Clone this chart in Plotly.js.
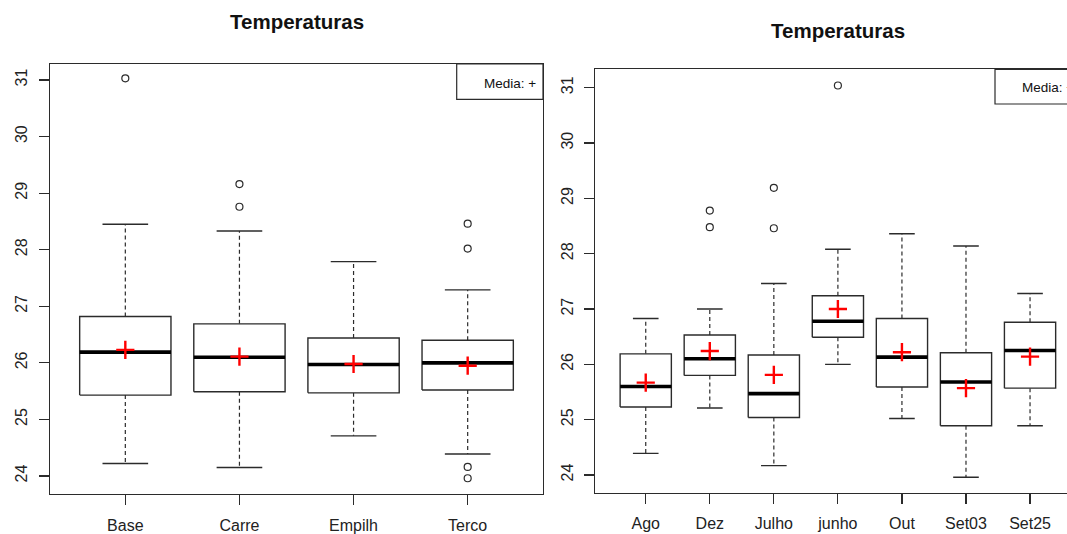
<!DOCTYPE html>
<html>
<head>
<meta charset="utf-8">
<script src="https://cdn.plot.ly/plotly-3.0.1.min.js"></script>
<style>html,body{margin:0;padding:0;background:#fff}#chart{width:1067px;height:534px}</style>
</head>
<body>
<div id="chart"></div>
<script>
// Panel A: storage location
const catsA = ["Base", "Carre", "Empilh", "Terco"];
const lowA  = [24.22, 24.15, 24.71, 24.39];
const q1A   = [25.43, 25.49, 25.47, 25.52];
const medA  = [26.19, 26.10, 25.97, 26.00];
const q3A   = [26.82, 26.69, 26.44, 26.40];
const highA = [28.45, 28.33, 27.79, 27.29];
const meanA = [26.23, 26.11, 25.98, 25.95];
const outA  = [[31.03], [29.16, 28.76], [], [28.46, 28.02, 24.16, 23.96]];

// Panel B: period
const catsB = ["Ago", "Dez", "Julho", "junho", "Out", "Set03", "Set25"];
const lowB  = [24.39, 25.21, 24.17, 26.00, 25.02, 23.96, 24.89];
const q1B   = [25.23, 25.80, 25.04, 26.49, 25.59, 24.89, 25.57];
const medB  = [25.60, 26.10, 25.47, 26.78, 26.13, 25.68, 26.25];
const q3B   = [26.19, 26.53, 26.17, 27.24, 26.83, 26.21, 26.76];
const highB = [26.83, 27.00, 27.46, 28.08, 28.36, 28.14, 27.28];
const meanB = [25.67, 26.24, 25.81, 27.00, 26.22, 25.57, 26.14];
const outB  = [[], [28.78, 28.48], [29.19, 28.46], [31.04], [], [], []];

const yTicks = [24, 25, 26, 27, 28, 29, 30, 31];
const titleText = "Temperaturas";
const legendText = "Media: +";

const W = 1067, H = 534;
const BOXW = 0.4, CAPW = 0.2;
const lineCol = "#2b2b2b";

function panelTraces(cats, low, q1, med, q3, high, mean, out, xa, ya) {
  const bx = [], by = [], mx = [], my = [], wx = [], wy = [], cx = [], cy = [];
  const ox = [], oy = [], ex = [], ey = [];
  cats.forEach((c, k) => {
    const i = k + 1;
    bx.push(i - BOXW, i + BOXW, i + BOXW, i - BOXW, i - BOXW, null);
    by.push(q1[k], q1[k], q3[k], q3[k], q1[k], null);
    mx.push(i - BOXW, i + BOXW, null);
    my.push(med[k], med[k], null);
    wx.push(i, i, null, i, i, null);
    wy.push(q3[k], high[k], null, q1[k], low[k], null);
    cx.push(i - CAPW, i + CAPW, null, i - CAPW, i + CAPW, null);
    cy.push(high[k], high[k], null, low[k], low[k], null);
    out[k].forEach(v => { ox.push(i); oy.push(v); });
    ex.push(i); ey.push(mean[k]);
  });
  const base = {type: "scatter", xaxis: xa, yaxis: ya, hoverinfo: "skip", showlegend: false};
  return [
    Object.assign({}, base, {x: wx, y: wy, mode: "lines", line: {color: lineCol, width: 1.2, dash: "4px,3px"}}),
    Object.assign({}, base, {x: cx, y: cy, mode: "lines", line: {color: lineCol, width: 1.4}}),
    Object.assign({}, base, {x: bx, y: by, mode: "lines", fill: "toself", fillcolor: "#ffffff", line: {color: lineCol, width: 1.4}}),
    Object.assign({}, base, {x: mx, y: my, mode: "lines", line: {color: "#000", width: 3.6}}),
    Object.assign({}, base, {x: ox, y: oy, mode: "markers", marker: {symbol: "circle-open", size: 7, color: lineCol, line: {width: 1.2, color: lineCol}}}),
    Object.assign({}, base, {x: ex, y: ey, mode: "markers", marker: {symbol: "cross-thin-open", size: 13, color: "#ff0000", line: {width: 2.4, color: "#ff0000"}}})
  ];
}

const data = [].concat(
  panelTraces(catsA, lowA, q1A, medA, q3A, highA, meanA, outA, "x", "y"),
  panelTraces(catsB, lowB, q1B, medB, q3B, highB, meanB, outB, "x2", "y2")
);

const tickFont = {family: "Liberation Sans, Arial, sans-serif", size: 16, color: "#222"};
function px2x(p) { return p / W; }
function px2y(p) { return 1 - p / H; }

const xCommon = {showgrid: false, zeroline: false, ticks: "outside", ticklen: 10, tickwidth: 1.2,
  tickcolor: lineCol, showline: true, linecolor: lineCol, linewidth: 1.4, mirror: true,
  tickfont: tickFont, fixedrange: true, ticklabelstandoff: 6};
const yCommon = {showgrid: false, zeroline: false, ticks: "outside", ticklen: 10, tickwidth: 1.2,
  tickcolor: lineCol, showline: true, linecolor: lineCol, linewidth: 1.4,
  tickfont: tickFont, tickangle: -90, tickvals: yTicks, ticktext: yTicks.map(String), fixedrange: true,
  ticklabelstandoff: 5};

const layout = {
  width: W, height: H,
  margin: {l: 0, r: 0, t: 0, b: 0, pad: 0},
  paper_bgcolor: "#fff", plot_bgcolor: "#fff",
  showlegend: false,
  xaxis: Object.assign({}, xCommon, {domain: [px2x(50), px2x(543)], range: [0.34, 4.66],
    tickvals: catsA.map((c, k) => k + 1), ticktext: catsA, anchor: "y"}),
  yaxis: Object.assign({}, yCommon, {domain: [px2y(494), px2y(64)], range: [23.682, 31.283], mirror: true, anchor: "x"}),
  xaxis2: Object.assign({}, xCommon, {domain: [px2x(595.3), 1], range: [0.2125, 7.577],
    tickvals: catsB.map((c, k) => k + 1), ticktext: catsB, anchor: "y2"}),
  yaxis2: Object.assign({}, yCommon, {domain: [px2y(492.7), px2y(69.3)], range: [23.68, 31.333], mirror: false, anchor: "x2"}),
  shapes: [
    {type: "rect", xref: "paper", yref: "paper", x0: px2x(456.7), x1: px2x(543), y0: px2y(99.3), y1: px2y(64),
      line: {color: lineCol, width: 1.2}, fillcolor: "rgba(0,0,0,0)"},
    {type: "rect", xref: "paper", yref: "paper", x0: px2x(995), x1: px2x(1080), y0: px2y(104), y1: px2y(69.3),
      line: {color: lineCol, width: 1.2}, fillcolor: "rgba(0,0,0,0)"}
  ],
  annotations: [
    {text: "<b>" + titleText + "</b>", xref: "paper", yref: "paper", x: px2x(296.5), y: px2y(22),
      xanchor: "center", yanchor: "middle", showarrow: false,
      font: {family: "Liberation Sans, Arial, sans-serif", size: 20.5, color: "#111"}},
    {text: "<b>" + titleText + "</b>", xref: "paper", yref: "paper", x: px2x(837.5), y: px2y(30),
      xanchor: "center", yanchor: "middle", showarrow: false,
      font: {family: "Liberation Sans, Arial, sans-serif", size: 20.5, color: "#111"}},
    {text: legendText, xref: "paper", yref: "paper", x: px2x(481.7), y: px2y(83),
      xanchor: "left", yanchor: "middle", showarrow: false,
      font: {family: "Liberation Sans, Arial, sans-serif", size: 13.5, color: "#111"}},
    {text: legendText, xref: "paper", yref: "paper", x: px2x(1020), y: px2y(88),
      xanchor: "left", yanchor: "middle", showarrow: false,
      font: {family: "Liberation Sans, Arial, sans-serif", size: 13.5, color: "#111"}}
  ]
};

Plotly.newPlot("chart", data, layout, {displayModeBar: false, staticPlot: true});
</script>
</body>
</html>
